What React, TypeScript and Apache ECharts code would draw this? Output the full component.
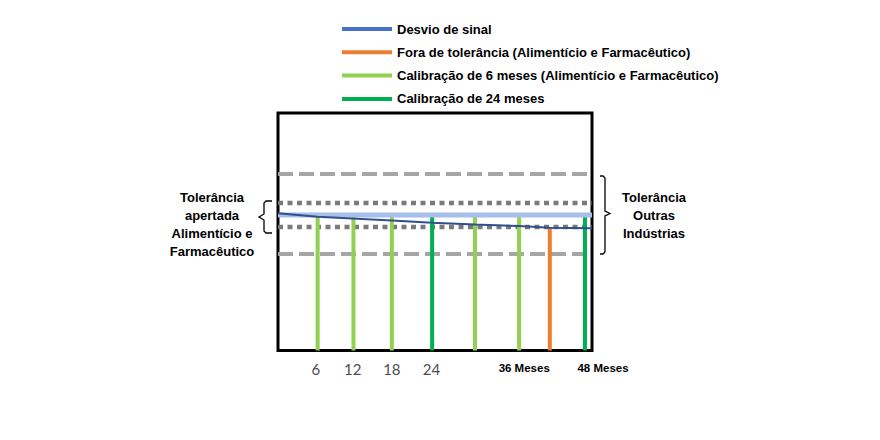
import React, { useEffect, useRef } from "react";
import * as echarts from "echarts";

// ---- data ----
const seriesNames = [
  "Desvio de sinal",
  "Fora de tolerância (Alimentício e Farmacêutico)",
  "Calibração de 6 meses (Alimentício e Farmacêutico)",
  "Calibração de 24 meses",
];
const legendColors = ["#4472C4", "#ED7D31", "#92D050", "#00B050"];

// signal drift curve (months, signal level)
const driftMonths = [0, 6.2, 17.8, 24.1, 30.8, 37.7, 42.5, 49.1];
const driftValues = [57.8, 56.3, 54.7, 53.8, 53.1, 52.4, 51.7, 51.5];

// calibrations (vertical bars)
const outOfTolMonths = [42.5];
const outOfTolValues = [51.7];
const cal6Months = [6.2, 11.8, 17.8, 30.8, 37.7];
const cal6Values = [57, 57, 57, 57, 57];
const cal24Months = [24.1, 48];
const cal24Values = [57, 57];

// horizontal reference levels
const spanMonths = [0, 49.1];
const nominalSignal = 57.1;
const tightTolerance = [62.1, 52.0];
const otherTolerance = [74.3, 40.6];

// x tick labels
const tickValues = [5.9, 11.7, 17.8, 24, 38.5, 49.1];
const tickLabels = ["6", "12", "18", "24", "36 Meses", "48 Meses"];

const leftNote = ["Tolerância", "apertada", "Alimentício e", "Farmacêutico"];
const rightNote = ["Tolerância", "Outras", "Indústrias"];

const FONT = '"Liberation Sans", Arial, sans-serif';

const pairs = (xs: number[], ys: number[]) => xs.map((x, i) => [x, ys[i]]);
const flat = (y: number) => spanMonths.map((x) => [x, y]);

function buildOption() {
  const hLine = (y: number, color: string, width: number, type: any, z: number) => ({
    type: "line",
    data: flat(y),
    symbol: "none",
    silent: true,
    z,
    lineStyle: { color, width, type, cap: "butt" },
  });

  const bar = (name: string, xs: number[], ys: number[], color: string) => ({
    type: "bar",
    name,
    data: pairs(xs, ys),
    barWidth: 4,
    barGap: "-100%",
    z: 2,
    itemStyle: { color },
  });

  const textEl = (t: string, x: number, y: number) => ({
    type: "text",
    x,
    y,
    silent: true,
    style: {
      text: t,
      align: "center",
      verticalAlign: "middle",
      textAlign: "center",
      textVerticalAlign: "middle",
      fontFamily: FONT,
      fontWeight: "bold",
      fontSize: 13,
      fill: "#000",
    },
  });

  return {
    animation: false,
    backgroundColor: "#fff",
    grid: {
      left: 278,
      right: 288,
      top: 113,
      bottom: 89.5,
      show: true,
      borderColor: "#000",
      borderWidth: 3,
      backgroundColor: "transparent",
    },
    legend: {
      orient: "vertical",
      left: 337,
      top: 16,
      itemWidth: 50,
      itemHeight: 4,
      itemGap: 7.3,
      icon: "rect",
      selectedMode: false,
      textStyle: {
        fontFamily: FONT,
        fontWeight: "bold",
        fontSize: 13,
        color: "#000",
        lineHeight: 16,
      },
      data: seriesNames.map((n, i) => ({ name: n, itemStyle: { color: legendColors[i] } })),
    },
    xAxis: {
      type: "value",
      min: spanMonths[0],
      max: spanMonths[1],
      axisLine: { show: false },
      axisTick: { show: false },
      splitLine: { show: false },
      axisLabel: {
        customValues: tickValues,
        showMaxLabel: true,
        showMinLabel: true,
        hideOverlap: false,
        margin: 11,
        formatter: (v: number) => {
          const i = tickValues.findIndex((t) => Math.abs(t - v) < 1e-6);
          if (i < 0) return "";
          const t = tickLabels[i];
          if (i === tickLabels.length - 1) return "{r|" + t + "}";
          return /Meses/.test(t) ? "{m|" + t + "}" : "{n|" + t + "}";
        },
        rich: {
          n: { fontFamily: "Lato, sans-serif", fontSize: 15, color: "#4D4D4D" },
          m: { fontFamily: FONT, fontWeight: "bold", fontSize: 11.5, color: "#000" },
          r: { fontFamily: FONT, fontWeight: "bold", fontSize: 11.5, color: "#000", padding: [0, 0, 0, 22] },
        },
      },
    },
    yAxis: { type: "value", min: 0, max: 100, show: false },
    series: [
      hLine(otherTolerance[0], "#A6A6A6", 4, [15, 6], 1),
      hLine(otherTolerance[1], "#A6A6A6", 4, [15, 6], 1),
      hLine(tightTolerance[0], "#7A7A7A", 4.5, [5, 4.5], 1),
      hLine(tightTolerance[1], "#7A7A7A", 4.5, [5, 4.5], 1),
      bar(seriesNames[1], outOfTolMonths, outOfTolValues, legendColors[1]),
      bar(seriesNames[2], cal6Months, cal6Values, legendColors[2]),
      bar(seriesNames[3], cal24Months, cal24Values, legendColors[3]),
      hLine(nominalSignal, "#A6BFE8", 5, "solid", 3),
      {
        type: "line",
        name: seriesNames[0],
        data: pairs(driftMonths, driftValues),
        symbol: "none",
        smooth: false,
        z: 4,
        lineStyle: { color: "#2F4F8F", width: 2 },
        itemStyle: { color: legendColors[0] },
      },
    ],
    graphic: [
      ...leftNote.map((t, i) => textEl(t, 212, 197 + i * 18.3)),
      ...rightNote.map((t, i) => textEl(t, 654, 197 + i * 18)),
      {
        type: "polyline",
        silent: true,
        shape: {
          points: [
            [272, 201], [266, 201], [264, 203], [264, 214], [259, 217],
            [264, 220], [264, 231], [266, 233], [272, 233],
          ],
        },
        style: { stroke: "#000", lineWidth: 1.3, fill: null },
      },
      {
        type: "polyline",
        silent: true,
        shape: {
          points: [
            [600, 176], [603, 176], [605, 178], [605, 211], [610, 213.5],
            [605, 216], [605, 252], [603, 254], [600, 254],
          ],
        },
        style: { stroke: "#000", lineWidth: 1.3, fill: null },
      },
    ],
  };
}

export default function App() {
  const ref = useRef<HTMLDivElement>(null);
  useEffect(() => {
    if (!ref.current) return;
    const chart = echarts.init(ref.current, null, { renderer: "svg" });
    chart.setOption(buildOption() as any);
    return () => chart.dispose();
  }, []);
  return (
    <div
      ref={ref}
      style={{ position: "fixed", left: 0, top: 0, width: 880, height: 440, background: "#fff" }}
    />
  );
}
